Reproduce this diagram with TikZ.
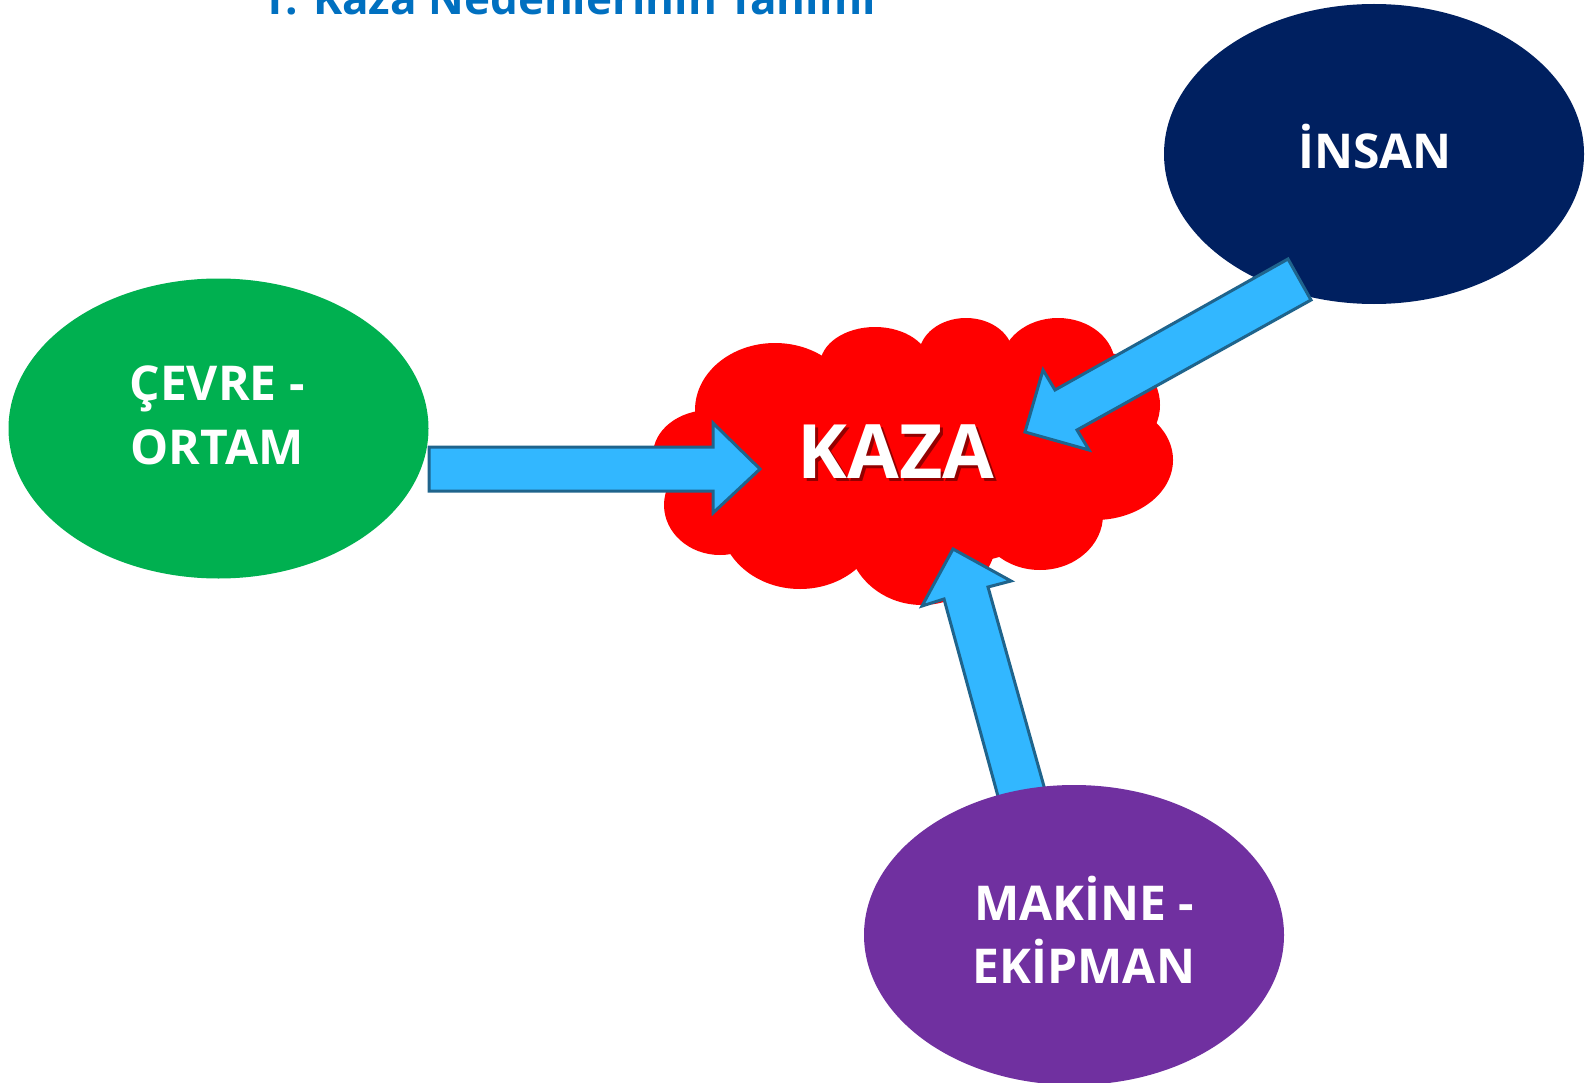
\documentclass[tikz,border=0pt]{standalone}
\usepackage{fontspec}
\setmainfont{Open Sans}
\usetikzlibrary{shapes.geometric}
\definecolor{insanblue}{RGB}{0,32,96}
\definecolor{cevregreen}{RGB}{0,176,80}
\definecolor{makpurple}{RGB}{112,48,160}
\definecolor{arrowfill}{RGB}{50,183,255}
\definecolor{arrowline}{RGB}{31,100,140}
\definecolor{titleblue}{RGB}{0,112,192}
\definecolor{kazared}{RGB}{255,0,0}
\definecolor{shadowred}{RGB}{120,0,0}
\tikzset{
  bubble/.style={ellipse, minimum width=420pt, minimum height=300pt, inner sep=0pt, draw=none},
  lbl/.style={anchor=base, text=white, inner sep=0pt, font=\fontsize{48}{58}\selectfont\bfseries},
  blockarrow/.style={fill=arrowfill, draw=arrowline, line width=3pt, line join=miter},
  lobe/.style={fill=kazared},
  titletext/.style={anchor=base west, text=titleblue, inner sep=0pt, font=\fontsize{44}{52}\selectfont\bfseries}
}
\begin{document}
\begin{tikzpicture}[x=1pt,y=-1pt]
\useasboundingbox (0,0) rectangle (1586,1083);
\clip (0,0) rectangle (1586,1083);
\fill[white] (0,0) rectangle (1586,1083);

% title (cut off at top)
\node[titletext] (title) at (260,15) {1. Kaza Nedenlerinin Tanımı};

% side ellipses
\node[bubble, fill=insanblue] (insan) at (1374,154) {};
\node[bubble, fill=cevregreen] (cevre) at (218.5,428.5) {};

% cloud
\begin{scope}
\fill[lobe] (900,460) ellipse (210 and 110);
\fill[lobe] (775,410) ellipse (80 and 67);
\fill[lobe] (875,365) ellipse (55 and 38);
\fill[lobe] (966,355) ellipse (47 and 37);
\fill[lobe] (1058,365) ellipse (57 and 47);
\fill[lobe] (1105,405) ellipse (55 and 52);
\fill[lobe] (1095,460) ellipse (78 and 60);
\fill[lobe] (1040,515) ellipse (63 and 55);
\fill[lobe] (922,535) ellipse (75 and 70);
\fill[lobe] (800,520) ellipse (80 and 69);
\fill[lobe] (720,505) ellipse (56 and 50);
\fill[lobe] (710,455) ellipse (57 and 45);
\end{scope}
\coordinate (kaza) at (896,451);
\node[anchor=base, inner sep=0pt, text=shadowred, opacity=0.8, font=\fontsize{75}{80}\selectfont\bfseries] (kazashadow) at (899,481) {KAZA};
\node[anchor=base, inner sep=0pt, text=white, font=\fontsize{75}{80}\selectfont\bfseries] (kazatext) at (896,478) {KAZA};

% arrows
\draw[blockarrow] (429,447) -- (713,447) -- (713,423) -- (760,469) -- (713,513) -- (713,491) -- (429,491) -- cycle;
\draw[blockarrow] (1288,259) -- (1055,390) -- (1043,370) -- (1025,432) -- (1089,450) -- (1077,430) -- (1311,300) -- cycle;
\draw[blockarrow] (999,800) -- (944,599) -- (922,606) -- (953,549) -- (1011,581) -- (988,587) -- (1045,790) -- cycle;

% bottom ellipse on top of arrow tail
\node[bubble, fill=makpurple] (makine) at (1074,935) {};

% labels
\node[lbl] (insanlbl) at (1375,169) {İNSAN};
\node[lbl] (cevrelbl1) at (217,400) {ÇEVRE -};
\node[lbl] (cevrelbl2) at (217,464) {ORTAM};
\node[lbl] (makinelbl1) at (1084,920) {MAKİNE -};
\node[lbl] (makinelbl2) at (1084,983) {EKİPMAN};
\end{tikzpicture}
\end{document}
